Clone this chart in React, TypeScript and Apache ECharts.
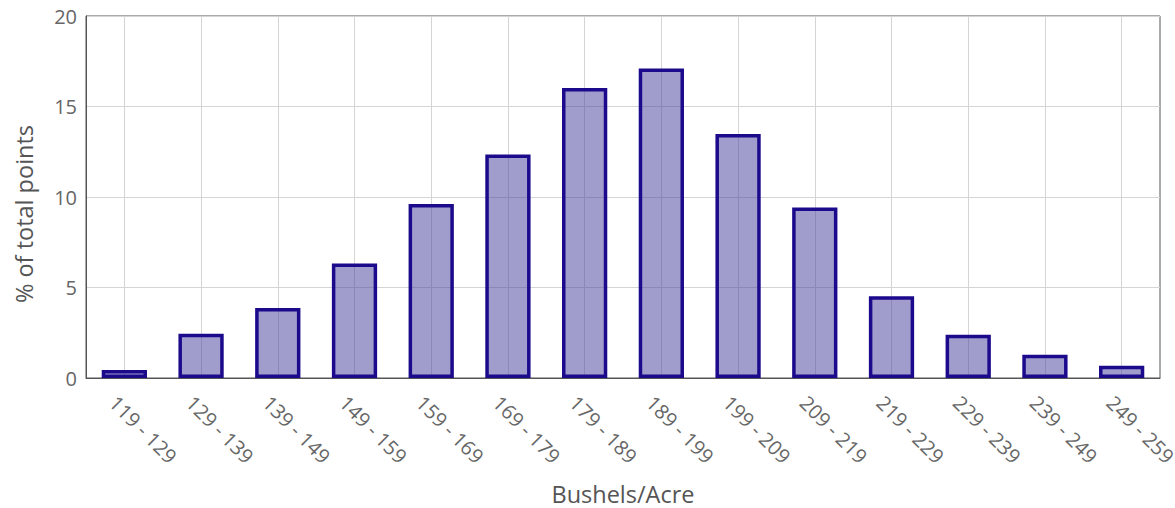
import React, { useEffect, useRef } from "react";
import * as echarts from "echarts";

const categories = [
  "119 - 129", "129 - 139", "139 - 149", "149 - 159", "159 - 169", "169 - 179", "179 - 189",
  "189 - 199", "199 - 209", "209 - 219", "219 - 229", "229 - 239", "239 - 249", "249 - 259",
];
const percentOfPoints = [0.44, 2.44, 3.87, 6.33, 9.61, 12.35, 16.02, 17.1, 13.48, 9.42, 4.52, 2.39, 1.29, 0.68];
const yTicks = { min: 0, max: 20, interval: 5 };

const FONT = "'Open Sans', 'Noto Sans', sans-serif";

export default function App() {
  const ref = useRef<HTMLDivElement>(null);
  useEffect(() => {
    if (!ref.current) return;
    const chart = echarts.init(ref.current, undefined, { renderer: "svg" });
    chart.setOption({
      animation: false,
      backgroundColor: "#ffffff",
      grid: {
        left: 86,
        right: 15,
        top: 16,
        bottom: 130,
        show: true,
        borderColor: "#555",
        borderWidth: 1,
        backgroundColor: "transparent",
        containLabel: false,
        outerBoundsMode: "none",
      },
      xAxis: {
        type: "category",
        data: categories,
        name: "Bushels/Acre",
        nameLocation: "middle",
        nameGap: 104,
        nameTextStyle: { fontFamily: FONT, fontSize: 23.5, lineHeight: 24, color: "#555" },
        axisLine: { show: true, lineStyle: { color: "#555", width: 1 } },
        axisTick: { show: false },
        axisLabel: {
          interval: 0,
          rotate: -45,
          margin: 10,
          verticalAlign: "top",
          padding: [6, 0, 0, 0],
          fontFamily: FONT,
          fontSize: 20,
          color: "#666",
        },
        splitLine: { show: true, alignWithLabel: true, lineStyle: { color: "#d4d4d4", width: 1 } },
      },
      yAxis: {
        type: "value",
        min: yTicks.min,
        max: yTicks.max,
        interval: yTicks.interval,
        name: "% of total points",
        nameLocation: "middle",
        nameGap: 50,
        nameRotate: 90,
        nameTextStyle: { fontFamily: FONT, fontSize: 23.5, color: "#555", padding: [0, 34, 0, 0] },
        axisLine: { show: true, lineStyle: { color: "#555", width: 1 } },
        axisTick: { show: false },
        axisLabel: { margin: 9, fontFamily: FONT, fontSize: 20, color: "#666" },
        splitLine: { show: true, lineStyle: { color: "#d4d4d4", width: 1 } },
      },
      series: [
        {
          type: "bar",
          data: percentOfPoints,
          barWidth: "59%",
          itemStyle: {
            color: "rgba(65,57,153,0.5)",
            borderColor: "rgb(28,10,140)",
            borderWidth: 3.5,
          },
        },
      ],
    });
    return () => chart.dispose();
  }, []);
  return (
    <div
      ref={ref}
      style={{ position: "fixed", left: 0, top: 0, width: 1175, height: 508, background: "#fff" }}
    />
  );
}
